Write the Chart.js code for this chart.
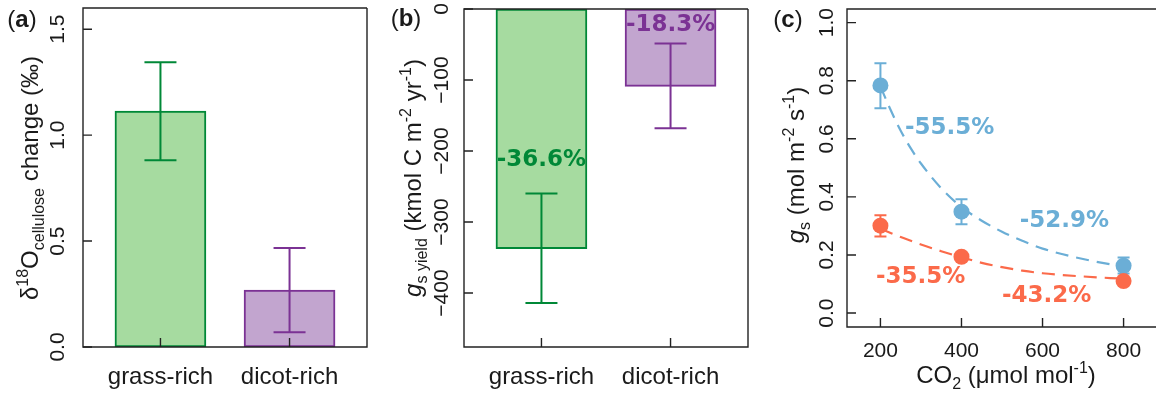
<!DOCTYPE html>
<html>
<head>
<meta charset="utf-8">
<script src="https://cdn.jsdelivr.net/npm/chart.js@4/dist/chart.umd.min.js"></script>
<style>
  html, body { margin: 0; padding: 0; background: #fff; }
  #wrap { position: relative; width: 1164px; height: 396px; overflow: hidden; }
  .panel { position: absolute; top: 0; height: 396px; }
</style>
</head>
<body>
<div id="wrap">
  <div class="panel" style="left:0;width:390px"><canvas id="chartA"></canvas></div>
  <div class="panel" style="left:390px;width:380px"><canvas id="chartB"></canvas></div>
  <div class="panel" style="left:770px;width:394px"><canvas id="chartC"></canvas></div>
</div>
<script>
// ---------- data ----------
const categories = ['grass-rich', 'dicot-rich'];

// (a) δ18O cellulose change (‰): mean and error-bar limits
const d18O = [1.113, 0.269];
const d18OLow = [0.882, 0.070];
const d18OHigh = [1.344, 0.467];
const d18OTicks = [0, 0.5, 1.0, 1.5];

// (b) gs yield (kmol C m-2 yr-1)
const gsYield = [-337.5, -108.9];
const gsYieldLow = [-414, -168];
const gsYieldHigh = [-260, -48.7];
const gsYieldPct = ['-36.6%', '-18.3%'];
const gsYieldTicks = [0, -100, -200, -300, -400];

// (c) gs vs CO2
const co2 = [200, 400, 800];
const gsBlue = [0.784, 0.349, 0.163];
const gsBlueLow = [0.705, 0.306, 0.136];
const gsBlueHigh = [0.860, 0.392, 0.191];
const gsRed = [0.301, 0.194, 0.110];
const gsRedLow = [0.264, 0.184, 0.101];
const gsRedHigh = [0.337, 0.204, 0.119];
// fitted response curves
const fitCo2 = [200, 225, 250, 275, 300, 350, 400, 450, 500, 550, 600, 700, 800];
const fitBlue = [0.780, 0.700, 0.628, 0.567, 0.515, 0.430, 0.365, 0.318, 0.280, 0.249, 0.222, 0.186, 0.160];
const fitRed = [0.290, 0.276, 0.262, 0.249, 0.236, 0.213, 0.192, 0.173, 0.158, 0.146, 0.137, 0.126, 0.118];
const bluePct = ['-55.5%', '-52.9%'];
const redPct = ['-35.5%', '-43.2%'];
const co2Ticks = [200, 400, 600, 800];
const gsTicks = [0, 0.2, 0.4, 0.6, 0.8, 1.0];

// ---------- styling ----------
const GREEN_FILL = '#a6dba0', GREEN = '#008837';
const PURPLE_FILL = '#c2a5cf', PURPLE = '#7b3294';
const BLUE = '#6baed6', RED = '#fb6a4a';
const INK = '#1a1a1a';
const SANS = '"Liberation Sans", Arial, sans-serif';
const BOLD_LABEL = 'bold 23px "DejaVu Sans", Verdana, sans-serif';

Chart.defaults.font.family = SANS;
Chart.defaults.color = INK;

// fixed axis thickness so plot boxes line up across panels
function fixSize(prop, val) {
  return s => {
    s[prop] = val;
    s.paddingTop = 0; s.paddingBottom = 0; s.paddingLeft = 0; s.paddingRight = 0;
  };
}
function ticksFrom(arr) {
  return s => { s.ticks = arr.map(v => ({ value: v })); };
}

// plot frame and inward tick marks
const frame = {
  id: 'frame',
  afterDatasetsDraw(chart, args, opts) {
    const { ctx, chartArea: a } = chart;
    ctx.save();
    ctx.strokeStyle = '#222';
    ctx.lineWidth = 1.4;
    ctx.beginPath();
    ctx.moveTo(a.right, a.top); ctx.lineTo(a.left, a.top);
    ctx.lineTo(a.left, a.bottom); ctx.lineTo(a.right, a.bottom);
    if (opts.right !== false) ctx.lineTo(a.right, a.top);
    ctx.stroke();
    const len = opts.tickLen || 9;
    ctx.beginPath();
    chart.scales.x.ticks.forEach(t => {
      const px = chart.scales.x.getPixelForValue(t.value);
      ctx.moveTo(px, a.bottom); ctx.lineTo(px, a.bottom - len);
    });
    chart.scales.y.ticks.forEach(t => {
      const py = chart.scales.y.getPixelForValue(t.value);
      ctx.moveTo(a.left, py); ctx.lineTo(a.left + len, py);
    });
    ctx.stroke();
    ctx.restore();
  }
};

// vertical error bars with caps
function drawErr(chart, s) {
  const meta = chart.getDatasetMeta(s.dataset);
  const ys = chart.scales.y;
  const ctx = chart.ctx;
  ctx.save();
  ctx.lineWidth = s.width || 2;
  meta.data.forEach((el, i) => {
    const px = el.x;
    const y1 = ys.getPixelForValue(s.low[i]);
    const y2 = ys.getPixelForValue(s.high[i]);
    ctx.strokeStyle = Array.isArray(s.color) ? s.color[i] : s.color;
    ctx.beginPath();
    ctx.moveTo(px, y1); ctx.lineTo(px, y2);
    ctx.moveTo(px - s.cap, y1); ctx.lineTo(px + s.cap, y1);
    ctx.moveTo(px - s.cap, y2); ctx.lineTo(px + s.cap, y2);
    ctx.stroke();
  });
  ctx.restore();
}
const errorBars = {
  id: 'errorBars',
  beforeDatasetDraw(chart, args, opts) {
    (opts.sets || []).filter(s => s.dataset === args.index && s.under).forEach(s => drawErr(chart, s));
  },
  afterDatasetDraw(chart, args, opts) {
    (opts.sets || []).filter(s => s.dataset === args.index && !s.under).forEach(s => drawErr(chart, s));
  }
};

// bold percentage labels placed in data units
const pctLabels = {
  id: 'pctLabels',
  afterDatasetsDraw(chart, args, opts) {
    const ctx = chart.ctx;
    ctx.save();
    ctx.font = BOLD_LABEL;
    ctx.textAlign = 'center';
    ctx.textBaseline = 'middle';
    (opts.items || []).forEach(it => {
      ctx.fillStyle = it.color;
      ctx.fillText(it.text, chart.scales.x.getPixelForValue(it.x), chart.scales.y.getPixelForValue(it.y));
    });
    ctx.restore();
  }
};

// axis titles and panel letters with sub/superscripts
function drawRich(ctx, parts, cx, cy, rot, size) {
  const small = Math.round(size * 0.68);
  const fontOf = p => (p.italic ? 'italic ' : '') + (p.bold ? 'bold ' : '') +
    (p.pos ? small : size) + 'px ' + SANS;
  let total = 0;
  const widths = parts.map(p => { ctx.font = fontOf(p); const w = ctx.measureText(p.t).width; total += w; return w; });
  ctx.save();
  ctx.translate(cx, cy);
  ctx.rotate(rot);
  ctx.fillStyle = INK;
  ctx.textBaseline = 'alphabetic';
  ctx.textAlign = 'left';
  let x = -total / 2;
  const base = size * 0.36;
  parts.forEach((p, i) => {
    ctx.font = fontOf(p);
    const dy = p.pos === 'sub' ? size * 0.27 : p.pos === 'sup' ? -size * 0.42 : 0;
    ctx.fillText(p.t, x, base + dy);
    x += widths[i];
  });
  ctx.restore();
}
const titles = {
  id: 'titles',
  afterDraw(chart, args, opts) {
    (opts.items || []).forEach(it => drawRich(chart.ctx, it.parts, it.x, it.y, it.rot || 0, it.size));
  }
};
const letter = ch => [{ t: '(' }, { t: ch, bold: true }, { t: ')' }];

const noLegend = { legend: { display: false }, tooltip: { enabled: false } };

// category axis drawn on a linear scale so bar spacing can be set freely
function categoryX() {
  return {
    type: 'linear', min: -0.6, max: 1.6, offset: false,
    afterBuildTicks: s => { s.ticks = categories.map((_, i) => ({ value: i })); },
    ticks: { callback: v => categories[v] ?? '', font: { size: 24 }, padding: 16, maxRotation: 0, autoSkip: false },
    grid: { display: false, drawTicks: false, offset: false }, border: { display: false },
    afterFit: fixSize('height', 49)
  };
}

// ---------- (a) ----------
new Chart(document.getElementById('chartA'), {
  type: 'bar',
  data: {
    datasets: [{
      data: categories.map((c, i) => ({ x: i, y: d18O[i] })),
      backgroundColor: [GREEN_FILL, PURPLE_FILL],
      borderColor: [GREEN, PURPLE],
      borderWidth: 2,
      borderSkipped: false,
      barThickness: 91
    }]
  },
  options: {
    responsive: true, maintainAspectRatio: false, animation: false,
    layout: { padding: { left: 0, right: 23, top: 8, bottom: 0 } },
    plugins: {
      ...noLegend,
      frame: { tickLen: 9 },
      errorBars: { sets: [{ dataset: 0, low: d18OLow, high: d18OHigh, color: [GREEN, PURPLE], cap: 16, width: 2 }] },
      titles: { items: [
        { parts: [{ t: 'δ' }, { t: '18', pos: 'sup' }, { t: 'O' }, { t: 'cellulose', pos: 'sub' }, { t: ' change (‰)' }],
          x: 29, y: 178, rot: -Math.PI / 2, size: 24 },
        { parts: letter('a'), x: 22, y: 18, size: 24 }
      ] }
    },
    scales: {
      x: categoryX(),
      y: {
        min: 0, max: 1.6,
        afterBuildTicks: ticksFrom(d18OTicks),
        ticks: { callback: v => v.toFixed(1), font: { size: 21 }, minRotation: 90, maxRotation: 90, crossAlign: 'center', padding: 10, autoSkip: false },
        grid: { display: false, drawTicks: false }, border: { display: false },
        afterFit: fixSize('width', 83)
      }
    }
  },
  plugins: [frame, errorBars, titles]
});

// ---------- (b) ----------
new Chart(document.getElementById('chartB'), {
  type: 'bar',
  data: {
    datasets: [{
      data: categories.map((c, i) => ({ x: i, y: gsYield[i] })),
      backgroundColor: [GREEN_FILL, PURPLE_FILL],
      borderColor: [GREEN, PURPLE],
      borderWidth: 2,
      borderSkipped: false,
      barThickness: 91
    }]
  },
  options: {
    responsive: true, maintainAspectRatio: false, animation: false,
    layout: { padding: { left: 0, right: 22, top: 9, bottom: 0 } },
    plugins: {
      ...noLegend,
      frame: { tickLen: 9 },
      errorBars: { sets: [{ dataset: 0, low: gsYieldLow, high: gsYieldHigh, color: [GREEN, PURPLE], cap: 16, width: 2 }] },
      pctLabels: { items: [
        { text: gsYieldPct[0], x: 0, y: -213, color: GREEN },
        { text: gsYieldPct[1], x: 1, y: -23, color: PURPLE }
      ] },
      titles: { items: [
        { parts: [{ t: 'g', italic: true }, { t: 's yield', pos: 'sub' }, { t: ' (kmol C m' }, { t: '-2', pos: 'sup' },
                  { t: ' yr' }, { t: '-1', pos: 'sup' }, { t: ')' }],
          x: 22, y: 178, rot: -Math.PI / 2, size: 24 },
        { parts: letter('b'), x: 16, y: 17, size: 24 }
      ] }
    },
    scales: {
      x: categoryX(),
      y: {
        min: -476, max: 0,
        afterBuildTicks: ticksFrom(gsYieldTicks),
        ticks: { callback: v => (v < 0 ? '\u2212' + Math.abs(v) : String(v)), font: { size: 21 }, minRotation: 90, maxRotation: 90, crossAlign: 'center', padding: -2, autoSkip: false },
        grid: { display: false, drawTicks: false }, border: { display: false },
        afterFit: fixSize('width', 74)
      }
    }
  },
  plugins: [frame, errorBars, pctLabels, titles]
});

// ---------- (c) ----------
new Chart(document.getElementById('chartC'), {
  type: 'scatter',
  data: {
    datasets: [
      { data: co2.map((x, i) => ({ x, y: gsRed[i] })), pointRadius: 8, pointBackgroundColor: RED, pointBorderWidth: 0, showLine: false },
      { data: co2.map((x, i) => ({ x, y: gsBlue[i] })), pointRadius: 8, pointBackgroundColor: BLUE, pointBorderWidth: 0, showLine: false },
      { data: fitCo2.map((x, i) => ({ x, y: fitRed[i] })), showLine: true, pointRadius: 0, borderColor: RED, borderWidth: 2.2, borderDash: [13, 8], cubicInterpolationMode: 'monotone', fill: false },
      { data: fitCo2.map((x, i) => ({ x, y: fitBlue[i] })), showLine: true, pointRadius: 0, borderColor: BLUE, borderWidth: 2.2, borderDash: [13, 8], cubicInterpolationMode: 'monotone', fill: false }
    ]
  },
  options: {
    responsive: true, maintainAspectRatio: false, animation: false,
    layout: { padding: { left: 0, right: 0, top: 9, bottom: 0 } },
    plugins: {
      ...noLegend,
      frame: { tickLen: 9, right: false },
      errorBars: { sets: [
        { dataset: 0, low: gsRedLow, high: gsRedHigh, color: RED, cap: 6, width: 2, under: true },
        { dataset: 1, low: gsBlueLow, high: gsBlueHigh, color: BLUE, cap: 6, width: 2, under: true }
      ] },
      pctLabels: { items: [
        { text: bluePct[0], x: 371, y: 0.637, color: BLUE },
        { text: bluePct[1], x: 654, y: 0.316, color: BLUE },
        { text: redPct[0], x: 299, y: 0.123, color: RED },
        { text: redPct[1], x: 610, y: 0.059, color: RED }
      ] },
      titles: { items: [
        { parts: [{ t: 'g', italic: true }, { t: 's', pos: 'sub' }, { t: ' (mol m' }, { t: '-2', pos: 'sup' },
                  { t: ' s' }, { t: '-1', pos: 'sup' }, { t: ')' }],
          x: 25, y: 165, rot: -Math.PI / 2, size: 24 },
        { parts: [{ t: 'CO' }, { t: '2', pos: 'sub' }, { t: ' (μmol mol' }, { t: '-1', pos: 'sup' }, { t: ')' }],
          x: 236, y: 374, size: 24 },
        { parts: letter('c'), x: 18, y: 18, size: 24 }
      ] }
    },
    scales: {
      x: {
        type: 'linear', min: 117.5, max: 880,
        afterBuildTicks: ticksFrom(co2Ticks),
        ticks: { font: { size: 21 }, padding: 12, maxRotation: 0, autoSkip: false },
        grid: { display: false, drawTicks: false }, border: { display: false },
        afterFit: fixSize('height', 69)
      },
      y: {
        min: -0.048, max: 1.047,
        afterBuildTicks: ticksFrom(gsTicks),
        ticks: { callback: v => v.toFixed(1), font: { size: 21 }, minRotation: 90, maxRotation: 90, crossAlign: 'center', padding: 5, autoSkip: false },
        grid: { display: false, drawTicks: false }, border: { display: false },
        afterFit: fixSize('width', 77)
      }
    }
  },
  plugins: [frame, errorBars, pctLabels, titles]
});
</script>
</body>
</html>
